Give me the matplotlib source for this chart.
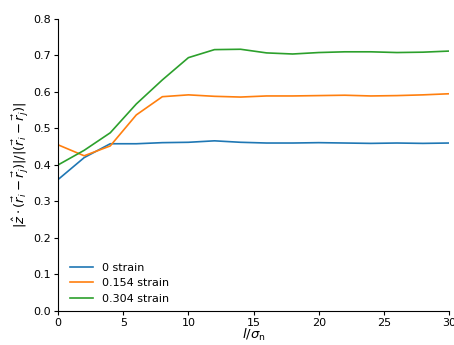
import matplotlib
matplotlib.use('Agg')
import matplotlib.pyplot as plt

plt.rcParams['font.size'] = 8

l = [0, 2, 4, 6, 8, 10, 12, 14, 16, 18, 20, 22, 24, 26, 28, 30]
strain_0 = [0.360, 0.420, 0.458, 0.458, 0.461, 0.462, 0.466, 0.462, 0.460, 0.460, 0.461, 0.460, 0.459, 0.460, 0.459, 0.460]
strain_154 = [0.455, 0.425, 0.452, 0.537, 0.587, 0.592, 0.588, 0.586, 0.589, 0.589, 0.590, 0.591, 0.589, 0.590, 0.592, 0.595]
strain_304 = [0.400, 0.440, 0.488, 0.567, 0.633, 0.694, 0.716, 0.717, 0.707, 0.704, 0.708, 0.710, 0.710, 0.708, 0.709, 0.712]

fig = plt.figure(figsize=(4.54, 3.45), dpi=100)
ax = fig.add_axes([0.128, 0.099, 0.861, 0.846])
ax.plot(l, strain_0, lw=1.2, label='0 strain')
ax.plot(l, strain_154, lw=1.2, label='0.154 strain')
ax.plot(l, strain_304, lw=1.2, label='0.304 strain')
ax.set_xlim(0, 30)
ax.set_ylim(0, 0.8)
ax.spines['top'].set_visible(False)
ax.spines['right'].set_visible(False)
ax.tick_params(length=3, pad=2)
ax.set_xlabel(r'$l/\sigma_\mathrm{n}$', fontsize=9.5, labelpad=-1)
ax.set_ylabel(r'$|\hat{z}\cdot(\vec{r}_i-\vec{r}_j)|/|(\vec{r}_i-\vec{r}_j)|$', fontsize=9.5, labelpad=2)
ax.legend(loc='lower left', frameon=False, borderaxespad=0.25, bbox_to_anchor=(0.013, 0))

fig.savefig('out.png', dpi=100)
